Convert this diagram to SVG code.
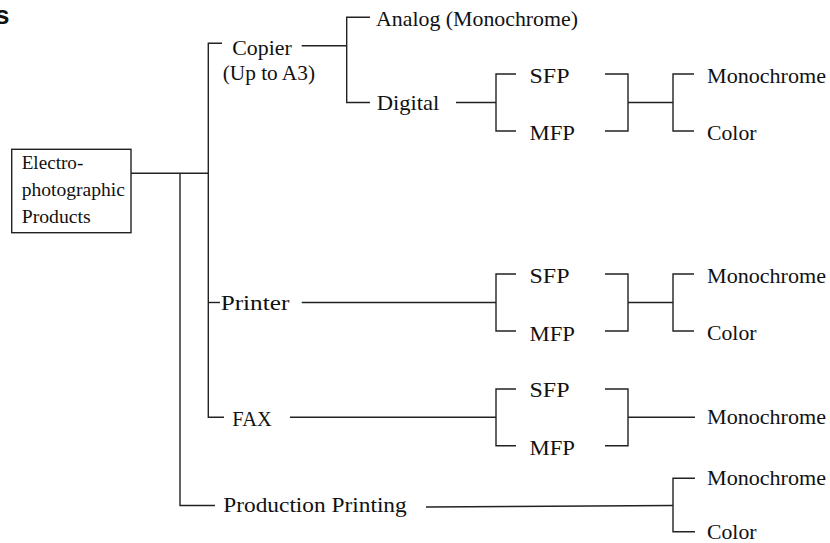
<svg xmlns="http://www.w3.org/2000/svg" width="830" height="543" viewBox="0 0 830 543">
<style>
.t{font-family:"Liberation Serif","Times New Roman",serif;font-size:21px;fill:#111;}
.b{font-family:"Liberation Serif","Times New Roman",serif;font-size:18.5px;fill:#111;}
.c{fill:none;stroke:#222;stroke-width:1.4;}
</style>
<rect width="830" height="543" fill="#fff"/>
<text x="-5" y="24" style="font-family:'Liberation Sans',Arial,sans-serif;font-size:26px;font-weight:bold;fill:#111">s</text>

<g id="connectors" class="c">
  <path d="M131 173.3H208.3"/>
  <path d="M180 173.3V505.5H215"/>
  <path d="M222 43.3H208.3V417.3H224"/>
  <path d="M208.3 302.5H220"/>
  <path d="M301.7 45.7H346.7"/>
  <path d="M370 17.3H346.7V102.5H370"/>
  <path d="M456 102.5H496"/>
  <path d="M516 74H496V131H516"/>
  <path d="M605 74H628V131H605"/>
  <path d="M628 102.5H673"/>
  <path d="M694 74H673V131H694"/>
  <path d="M301.7 302.5H496"/>
  <path d="M516 274H496V331H516"/>
  <path d="M605 274H628V331H605"/>
  <path d="M628 302.5H673"/>
  <path d="M694 274H673V331H694"/>
  <path d="M290 417.3H496"/>
  <path d="M516 389H496V445.7H516"/>
  <path d="M605 389H628V445.7H605"/>
  <path d="M628 417.3H695"/>
  <path d="M426 507L673 505.5"/>
  <path d="M695 478.3H673V531.7H695"/>
</g>

<g id="root">
  <rect x="11.7" y="149.3" width="119.3" height="83.4" class="c"/>
  <text class="b" x="21.7" y="169.3" textLength="61.6" lengthAdjust="spacingAndGlyphs">Electro-</text>
  <text class="b" x="21.7" y="195.5" textLength="103.3" lengthAdjust="spacingAndGlyphs">photographic</text>
  <text class="b" x="21.7" y="223.3" textLength="69" lengthAdjust="spacingAndGlyphs">Products</text>
</g>
<g id="copier">
  <text class="t" x="232.3" y="54.5" textLength="59.4" lengthAdjust="spacingAndGlyphs">Copier</text>
  <text class="t" x="222.7" y="80" textLength="92.3" lengthAdjust="spacingAndGlyphs">(Up to A3)</text>
</g>
<g id="analog"><text class="t" x="376" y="25.7" textLength="202" lengthAdjust="spacingAndGlyphs">Analog (Monochrome)</text></g>
<g id="digital"><text class="t" x="376.7" y="109.5" textLength="62.6" lengthAdjust="spacingAndGlyphs">Digital</text></g>
<g id="copier-sfp"><text class="t" x="529.5" y="83" textLength="40" lengthAdjust="spacingAndGlyphs">SFP</text></g>
<g id="copier-mfp"><text class="t" x="529.5" y="140" textLength="45.5" lengthAdjust="spacingAndGlyphs">MFP</text></g>
<g id="copier-mono"><text class="t" x="707" y="82.7" textLength="119" lengthAdjust="spacingAndGlyphs">Monochrome</text></g>
<g id="copier-color"><text class="t" x="707" y="140" textLength="49.5" lengthAdjust="spacingAndGlyphs">Color</text></g>

<g id="printer"><text class="t" x="220.7" y="310" textLength="68.6" lengthAdjust="spacingAndGlyphs">Printer</text></g>
<g id="printer-sfp"><text class="t" x="529.5" y="282.7" textLength="40" lengthAdjust="spacingAndGlyphs">SFP</text></g>
<g id="printer-mfp"><text class="t" x="529.5" y="340.7" textLength="45.5" lengthAdjust="spacingAndGlyphs">MFP</text></g>
<g id="printer-mono"><text class="t" x="707" y="282.7" textLength="119" lengthAdjust="spacingAndGlyphs">Monochrome</text></g>
<g id="printer-color"><text class="t" x="707" y="340" textLength="49.5" lengthAdjust="spacingAndGlyphs">Color</text></g>

<g id="fax"><text class="t" x="232.3" y="425.5" textLength="39.4" lengthAdjust="spacingAndGlyphs">FAX</text></g>
<g id="fax-sfp"><text class="t" x="529.5" y="396.7" textLength="40" lengthAdjust="spacingAndGlyphs">SFP</text></g>
<g id="fax-mfp"><text class="t" x="529.5" y="455" textLength="45.5" lengthAdjust="spacingAndGlyphs">MFP</text></g>
<g id="fax-mono"><text class="t" x="707" y="424.3" textLength="119" lengthAdjust="spacingAndGlyphs">Monochrome</text></g>

<g id="production"><text class="t" x="223.3" y="512" textLength="183.4" lengthAdjust="spacingAndGlyphs">Production Printing</text></g>
<g id="production-mono"><text class="t" x="707" y="485" textLength="119" lengthAdjust="spacingAndGlyphs">Monochrome</text></g>
<g id="production-color"><text class="t" x="707" y="539" textLength="49.5" lengthAdjust="spacingAndGlyphs">Color</text></g>
</svg>
